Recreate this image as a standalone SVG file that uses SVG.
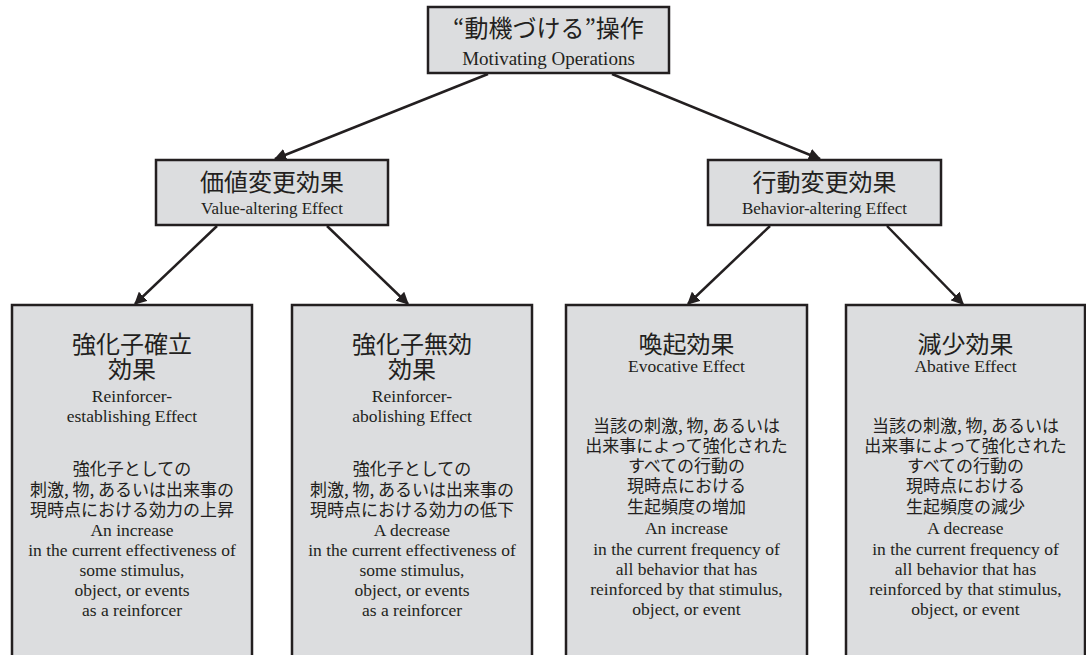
<svg xmlns="http://www.w3.org/2000/svg" width="1086" height="655" viewBox="0 0 1086 655">
<style>
.box{fill:#dcdddf;stroke:#231f20;stroke-width:2.5}
text{fill:#231f20;text-anchor:middle}
.jp{font-family:"Noto Sans CJK JP","Noto Sans",sans-serif;font-weight:400}
.en{font-family:"Liberation Serif","Times New Roman",serif}
.t1{font-size:24px}
.b{font-size:17px}
.e19{font-size:19px}
.e17{font-size:17px}
.e18{font-size:17.5px}
.con{stroke:#231f20;stroke-width:2.5;fill:none;marker-end:url(#ah)}
</style>
<defs>
<marker id="ah" viewBox="0 0 10 10" refX="9" refY="5" markerWidth="5" markerHeight="5" orient="auto" markerUnits="strokeWidth">
<path d="M0,0 L10,5 L0,10 z" fill="#231f20"/>
</marker>
</defs>
<rect width="1086" height="655" fill="#ffffff"/>
<g id="connectors">
<line class="con" x1="488" y1="74" x2="275" y2="159"/>
<line class="con" x1="612" y1="74" x2="820" y2="159"/>
<line class="con" x1="217" y1="226" x2="135" y2="304"/>
<line class="con" x1="327" y1="226" x2="408" y2="304"/>
<line class="con" x1="770" y1="226" x2="688" y2="304"/>
<line class="con" x1="887" y1="226" x2="963" y2="304"/>
</g>
<g id="mo">
<rect class="box" x="428" y="7" width="241" height="66"/>
<text x="548.5" y="37"><tspan class="jp t1">“動機づける”操作</tspan><tspan class="en e19" x="548.5" y="65">Motivating Operations</tspan></text>
</g>
<g id="value-altering">
<rect class="box" x="156" y="160" width="232" height="65"/>
<text x="272" y="191"><tspan class="jp t1">価値変更効果</tspan><tspan class="en e17" x="272" y="214">Value-altering Effect</tspan></text>
</g>
<g id="behavior-altering">
<rect class="box" x="708" y="160" width="233" height="65"/>
<text x="824.5" y="191"><tspan class="jp t1">行動変更効果</tspan><tspan class="en e17" x="824.5" y="214">Behavior-altering Effect</tspan></text>
</g>
<g id="establishing">
<rect class="box" x="12" y="305" width="240" height="360"/>
<text x="132" y="353"><tspan class="jp t1">強化子確立</tspan><tspan class="jp t1" x="132" y="378">効果</tspan><tspan class="en e18" x="132" y="402">Reinforcer-</tspan><tspan class="en e18" x="132" y="422">establishing Effect</tspan></text>
<text x="132" y="475"><tspan class="jp b">強化子としての</tspan><tspan class="jp b" x="132" y="496">刺激, 物, あるいは出来事の</tspan><tspan class="jp b" x="132" y="516">現時点における効力の上昇</tspan><tspan class="en e18" x="132" y="536">An increase</tspan><tspan class="en e18" x="132" y="556">in the current effectiveness of</tspan><tspan class="en e18" x="132" y="576">some stimulus,</tspan><tspan class="en e18" x="132" y="596">object, or events</tspan><tspan class="en e18" x="132" y="616">as a reinforcer</tspan></text>
</g>
<g id="abolishing">
<rect class="box" x="292" y="305" width="240" height="360"/>
<text x="412" y="353"><tspan class="jp t1">強化子無効</tspan><tspan class="jp t1" x="412" y="378">効果</tspan><tspan class="en e18" x="412" y="402">Reinforcer-</tspan><tspan class="en e18" x="412" y="422">abolishing Effect</tspan></text>
<text x="412" y="475"><tspan class="jp b">強化子としての</tspan><tspan class="jp b" x="412" y="496">刺激, 物, あるいは出来事の</tspan><tspan class="jp b" x="412" y="516">現時点における効力の低下</tspan><tspan class="en e18" x="412" y="536">A decrease</tspan><tspan class="en e18" x="412" y="556">in the current effectiveness of</tspan><tspan class="en e18" x="412" y="576">some stimulus,</tspan><tspan class="en e18" x="412" y="596">object, or events</tspan><tspan class="en e18" x="412" y="616">as a reinforcer</tspan></text>
</g>
<g id="evocative">
<rect class="box" x="566" y="305" width="241" height="360"/>
<text x="686.5" y="353"><tspan class="jp t1">喚起効果</tspan><tspan class="en e18" x="686.5" y="372">Evocative Effect</tspan></text>
<text x="686.5" y="432"><tspan class="jp b">当該の刺激, 物, あるいは</tspan><tspan class="jp b" x="686.5" y="452">出来事によって強化された</tspan><tspan class="jp b" x="686.5" y="472">すべての行動の</tspan><tspan class="jp b" x="686.5" y="492">現時点における</tspan><tspan class="jp b" x="686.5" y="513">生起頻度の増加</tspan><tspan class="en e18" x="686.5" y="534">An increase</tspan><tspan class="en e18" x="686.5" y="555">in the current frequency of</tspan><tspan class="en e18" x="686.5" y="575">all behavior that has</tspan><tspan class="en e18" x="686.5" y="595">reinforced by that stimulus,</tspan><tspan class="en e18" x="686.5" y="615">object, or event</tspan></text>
</g>
<g id="abative">
<rect class="box" x="846" y="305" width="239" height="360"/>
<text x="965.5" y="353"><tspan class="jp t1">減少効果</tspan><tspan class="en e18" x="965.5" y="372">Abative Effect</tspan></text>
<text x="965.5" y="432"><tspan class="jp b">当該の刺激, 物, あるいは</tspan><tspan class="jp b" x="965.5" y="452">出来事によって強化された</tspan><tspan class="jp b" x="965.5" y="472">すべての行動の</tspan><tspan class="jp b" x="965.5" y="492">現時点における</tspan><tspan class="jp b" x="965.5" y="513">生起頻度の減少</tspan><tspan class="en e18" x="965.5" y="534">A decrease</tspan><tspan class="en e18" x="965.5" y="555">in the current frequency of</tspan><tspan class="en e18" x="965.5" y="575">all behavior that has</tspan><tspan class="en e18" x="965.5" y="595">reinforced by that stimulus,</tspan><tspan class="en e18" x="965.5" y="615">object, or event</tspan></text>
</g>
</svg>
